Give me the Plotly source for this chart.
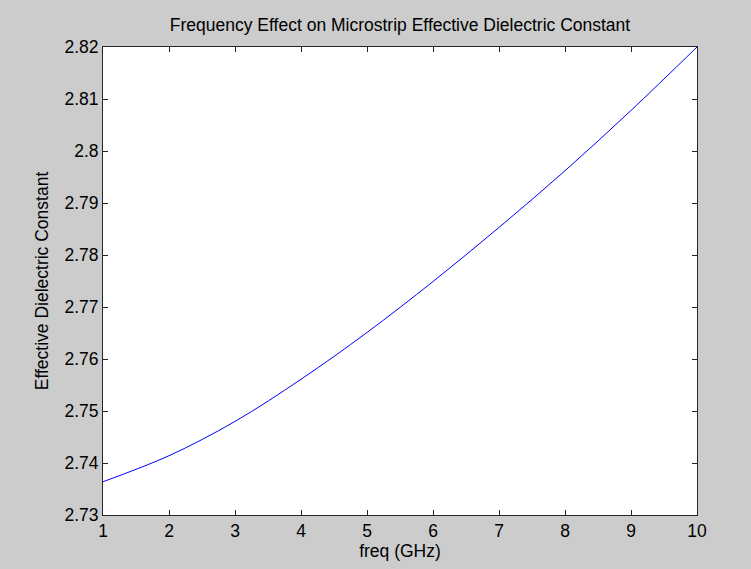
import plotly.graph_objects as go

freq_ghz = [1, 2, 3, 4, 5, 6, 7, 8, 9, 10]
eff_dielectric = [2.7364, 2.7414, 2.7480, 2.7561, 2.7651, 2.7749, 2.7853, 2.7962, 2.8078, 2.8200]

x_ticks = [1, 2, 3, 4, 5, 6, 7, 8, 9, 10]
y_ticks = [2.73, 2.74, 2.75, 2.76, 2.77, 2.78, 2.79, 2.80, 2.81, 2.82]
y_tick_labels = ["2.73", "2.74", "2.75", "2.76", "2.77", "2.78", "2.79", "2.8", "2.81", "2.82"]

font = "Liberation Sans, Arial, sans-serif"
fs = 17.5

fig = go.Figure()
fig.add_trace(go.Scatter(
    x=freq_ghz, y=eff_dielectric, mode="lines",
    line=dict(color="#0000ff", width=1, shape="spline", smoothing=1.0),
    showlegend=False, hoverinfo="skip"))

axis_common = dict(
    showgrid=False, zeroline=False, showline=True, linecolor="#262626", linewidth=1,
    mirror="ticks", ticks="inside", ticklen=5, tickcolor="#262626", tickwidth=1,
    tickfont=dict(family=font, size=fs, color="#000000"),
)

fig.update_layout(
    width=751, height=569,
    paper_bgcolor="#cccccc", plot_bgcolor="#ffffff",
    margin=dict(l=103, r=54, t=47, b=54),
    title=dict(text="Frequency Effect on Microstrip Effective Dielectric Constant",
               x=0.5, xref="paper", xanchor="center", y=1 - 25 / 569, yanchor="middle",
               font=dict(family=font, size=fs, color="#000000")),
    xaxis=dict(range=[1, 10], tickvals=x_ticks,
               title=dict(text="freq (GHz)", standoff=3,
                          font=dict(family=font, size=fs, color="#000000")),
               **axis_common),
    yaxis=dict(range=[2.73, 2.82], tickvals=y_ticks, ticktext=y_tick_labels,
               title=dict(text="Effective Dielectric Constant", standoff=11,
                          font=dict(family=font, size=fs, color="#000000")),
               **axis_common),
)

fig.write_html("out.html", config={"displayModeBar": False},
               post_script="document.body.style.margin='0';")
